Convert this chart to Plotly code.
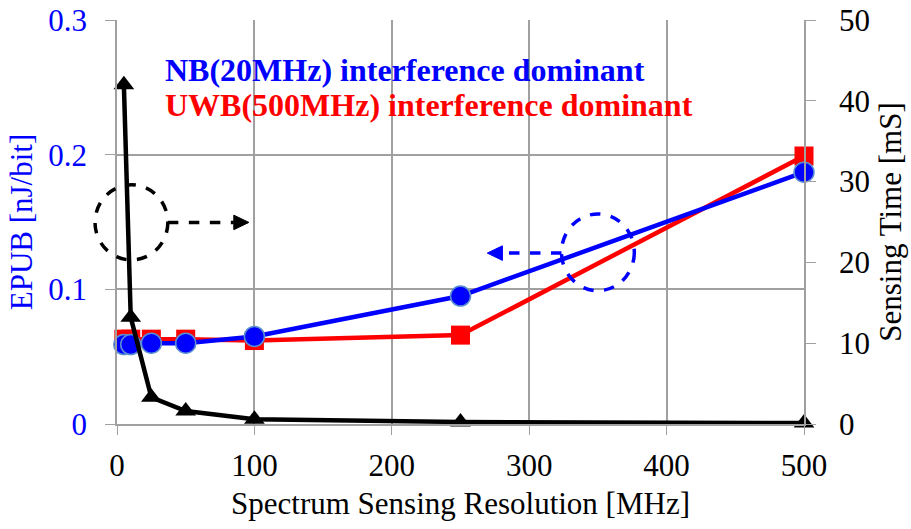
import plotly.graph_objects as go

# Spectrum sensing resolution [MHz]
resolution = [5, 10, 25, 50, 100, 250, 500]

# EPUB [nJ/bit]
epub_nb = [0.059, 0.059, 0.060, 0.060, 0.065, 0.095, 0.187]
epub_uwb = [0.063, 0.063, 0.063, 0.063, 0.062, 0.066, 0.199]

# Sensing time [mS]
sensing_time = [42.0, 13.2, 3.3, 1.6, 0.6, 0.25, 0.12]

FONT = "Liberation Serif, Times New Roman, serif"
GRID = "#a0a0a0"
FS = 31

fig = go.Figure()

fig.add_trace(go.Scatter(x=resolution, y=epub_uwb, mode="lines+markers", name="UWB",
                         line=dict(color="#ff0000", width=4.5),
                         marker=dict(symbol="square", size=19, color="#ff0000"),
                         cliponaxis=False))
fig.add_trace(go.Scatter(x=resolution, y=epub_nb, mode="lines+markers", name="NB",
                         line=dict(color="#0000ff", width=4.5),
                         marker=dict(symbol="circle", size=20, color="#0000ff",
                                     line=dict(color="#5b8fd0", width=1.5)),
                         cliponaxis=False))
fig.add_trace(go.Scatter(x=resolution, y=sensing_time, mode="lines+markers", name="Time",
                         yaxis="y2",
                         line=dict(color="black", width=4.5),
                         marker=dict(symbol="triangle-up", size=18, color="black"),
                         cliponaxis=False))

# dashed circles and arrows (paper coords)
shapes = [
    dict(type="circle", xref="paper", yref="paper", x0=-0.032, x1=0.074, y0=0.406, y1=0.592,
         line=dict(color="black", width=3.5, dash="dash")),
    dict(type="line", xref="paper", yref="paper", x0=0.074, x1=0.17, y0=0.499, y1=0.499,
         line=dict(color="black", width=3.5, dash="dash")),
    dict(type="path", xref="paper", yref="paper",
         path="M 0.170 0.517 L 0.192 0.499 L 0.170 0.481 Z",
         fillcolor="black", line=dict(color="black", width=1)),
    dict(type="circle", xref="paper", yref="paper", x0=0.647, x1=0.753, y0=0.33, y1=0.52,
         line=dict(color="#0000ff", width=3.5, dash="dash")),
    dict(type="line", xref="paper", yref="paper", x0=0.647, x1=0.56, y0=0.423, y1=0.423,
         line=dict(color="#0000ff", width=3.5, dash="dash")),
    dict(type="path", xref="paper", yref="paper",
         path="M 0.561 0.441 L 0.539 0.423 L 0.561 0.405 Z",
         fillcolor="#0000ff", line=dict(color="#0000ff", width=1)),
]

annotations = [
    dict(text="<b>NB(20MHz) interference dominant</b>", xref="paper", yref="paper",
         x=0.067, y=0.877, xanchor="left", yanchor="middle", showarrow=False,
         font=dict(family=FONT, size=32, color="#0000ff")),
    dict(text="<b>UWB(500MHz) interference dominant</b>", xref="paper", yref="paper",
         x=0.067, y=0.79, xanchor="left", yanchor="middle", showarrow=False,
         font=dict(family=FONT, size=32, color="#ff0000")),
]

fig.update_layout(
    width=911, height=529,
    plot_bgcolor="white", paper_bgcolor="white",
    margin=dict(l=117, r=107, t=20, b=105),
    showlegend=False,
    font=dict(family=FONT, size=FS, color="black"),
    shapes=shapes,
    annotations=annotations,
    xaxis=dict(range=[0, 500], tickvals=[0, 100, 200, 300, 400, 500],
               showgrid=True, gridcolor=GRID, gridwidth=1.5,
               showline=True, linecolor=GRID, linewidth=1.5, mirror=False,
               ticks="outside", ticklen=9, tickcolor=GRID, zeroline=False, automargin=False,
               ticklabelstandoff=4, ticklabeloverflow="allow",
               title=dict(text="Spectrum Sensing Resolution [MHz]", font=dict(size=FS), standoff=10)),
    yaxis=dict(range=[0, 0.3], tickvals=[0, 0.1, 0.2, 0.3], ticktext=["0", "0.1", "0.2", "0.3"],
               showgrid=True, gridcolor=GRID, gridwidth=1.5, zeroline=False,
               showline=True, linecolor=GRID, linewidth=1.5, automargin=False,
               ticks="outside", ticklen=10, tickcolor=GRID, ticklabelstandoff=12,
               ticklabeloverflow="allow",
               tickfont=dict(color="#0000ff"),
               title=dict(text="EPUB [nJ/bit]", font=dict(color="#0000ff", size=FS), standoff=6)),
    yaxis2=dict(range=[0, 50], tickvals=[0, 10, 20, 30, 40, 50], overlaying="y", side="right",
                showgrid=False, zeroline=False, automargin=False,
                showline=True, linecolor=GRID, linewidth=1.5,
                ticks="outside", ticklen=10, tickcolor=GRID, ticklabelstandoff=17,
                ticklabeloverflow="allow",
                title=dict(text="Sensing Time [mS]", font=dict(size=FS), standoff=10)),
)

# drop the browser's default 8px body margin so the figure fills the window
fig.write_html("out.html", config={"displayModeBar": False},
               post_script="document.body.style.margin='0';")
